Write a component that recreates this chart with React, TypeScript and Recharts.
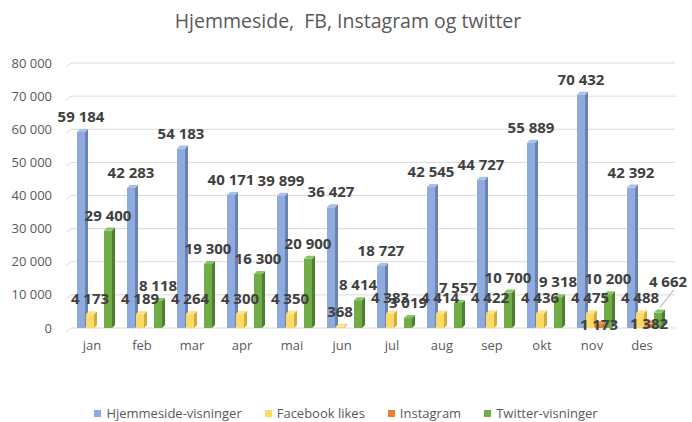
import React from "react";
import { BarChart, Bar, XAxis, YAxis, CartesianGrid, LabelList } from "recharts";

const months = ["jan", "feb", "mar", "apr", "mai", "jun", "jul", "aug", "sep", "okt", "nov", "des"];
const hjemmeside = [59184, 42283, 54183, 40171, 39899, 36427, 18727, 42545, 44727, 55889, 70432, 42392];
const facebook = [4173, 4189, 4264, 4300, 4350, 368, 4383, 4414, 4422, 4436, 4475, 4488];
const instagram = [null, null, null, null, null, null, null, null, null, null, 1173, 1382];
const twitter = [29400, 8118, 19300, 16300, 20900, 8414, 3019, 7557, 10700, 9318, 10200, 4662];
const yTicks = [0, 10000, 20000, 30000, 40000, 50000, 60000, 70000, 80000];

const series = [
  { key: "hjemmeside", name: "Hjemmeside-visninger", color: "#8faadc", side: "#6a83b5", top: "#a9bfe6" },
  { key: "facebook", name: "Facebook likes", color: "#ffd966", side: "#d1ab3c", top: "#ffe38a" },
  { key: "instagram", name: "Instagram", color: "#ed7d31", side: "#b85d20", top: "#f29a5e" },
  { key: "twitter", name: "Twitter-visninger", color: "#70ad47", side: "#4e7f2f", top: "#8cc266" },
];

const data = months.map((m, i) => ({
  month: m,
  hjemmeside: hjemmeside[i],
  facebook: facebook[i],
  instagram: instagram[i],
  twitter: twitter[i],
}));

const fmt = (v: number) => String(v).replace(/\B(?=(\d{3})+(?!\d))/g, " ");
const FONT = "'Open Sans', 'Liberation Sans', sans-serif";
const D = 3;

function Bar3D(props: any) {
  const { x, y, width, height } = props;
  const s = series.find((q) => q.key === props.dataKey) || series[0];
  if (!height || height <= 0) return null;
  const w = width - 1;
  return (
    <g>
      <rect x={x} y={y} width={w} height={height} fill={s.color} />
      <polygon points={`${x + w},${y} ${x + w + D},${y - D} ${x + w + D},${y + height - D} ${x + w},${y + height}`} fill={s.side} />
      <polygon points={`${x},${y} ${x + D},${y - D} ${x + w + D},${y - D} ${x + w},${y}`} fill={s.top} />
    </g>
  );
}

function makeLabel(lift: number, special?: boolean) {
  return (props: any) => {
    const { x, y, width, value, index } = props;
    if (value == null) return null;
    let cx = x + (width - 1) / 2;
    let cy = y - lift;
    let line = null;
    if (special && index === 11) {
      const bx = cx + 2, by = y - D;
      cx += 10;
      cy -= 16;
      line = <line x1={bx} y1={by - 2} x2={cx + 6} y2={cy + 9} stroke="#a6a6a6" strokeWidth={1} />;
    }
    return (
      <g>
        {line}
        <text x={cx} y={cy} textAnchor="middle" dominantBaseline="central" fontFamily={FONT} fontSize={15} fontWeight={700} fill="#404040">
          {fmt(value)}
        </text>
      </g>
    );
  };
}

function GridLine(props: any) {
  const { x1, x2, y1 } = props;
  return <path d={`M${x1 - 4},${y1 + 4} L${x1 + 1},${y1} L${x2 + 5},${y1}`} stroke="#d9d9d9" strokeWidth={1} fill="none" />;
}

export default function App() {
  return (
    <div style={{ position: "absolute", left: 0, top: 0, width: 692, height: 422, background: "#fff" }}>
      <div style={{ position: "absolute", top: 7, left: 0, width: 696, textAlign: "center", fontFamily: FONT, fontSize: 19.5, color: "#595959" }}>
        Hjemmeside,&nbsp; FB, Instagram og twitter
      </div>
      <BarChart
        width={692}
        height={422}
        data={data}
        margin={{ top: 63, right: 22, bottom: 64, left: 0 }}
        barGap={0}
        barSize={9}
      >
        <CartesianGrid vertical={false} horizontal={GridLine as any} />
        <XAxis
          dataKey="month"
          axisLine={false}
          tickLine={false}
          tickMargin={7}
          tick={{ fontFamily: FONT, fontSize: 13, fill: "#595959", dx: -3 }}
        />
        <YAxis
          width={70}
          domain={[0, 80000]}
          ticks={yTicks}
          axisLine={false}
          tickLine={false}
          tickMargin={12}
          tickFormatter={fmt}
          tick={{ fontFamily: FONT, fontSize: 13, fill: "#595959" }}
        />
        {series.map((s) => (
          <Bar key={s.key} dataKey={s.key} name={s.name} fill={s.color} shape={Bar3D} isAnimationActive={false}>
            <LabelList dataKey={s.key} content={makeLabel(s.key === "instagram" ? 0 : 16, s.key === "twitter") as any} />
          </Bar>
        ))}
      </BarChart>
      <div style={{ position: "absolute", top: 404, left: 0, width: 692, display: "flex", justifyContent: "center", fontFamily: FONT, fontSize: 13, lineHeight: "18px", color: "#595959" }}>
        {series.map((s) => (
          <div key={s.key} style={{ display: "flex", alignItems: "center", margin: "0 11.5px" }}>
            <span style={{ width: 7, height: 7, background: s.color, display: "inline-block", marginRight: 5 }} />
            {s.name}
          </div>
        ))}
      </div>
    </div>
  );
}
